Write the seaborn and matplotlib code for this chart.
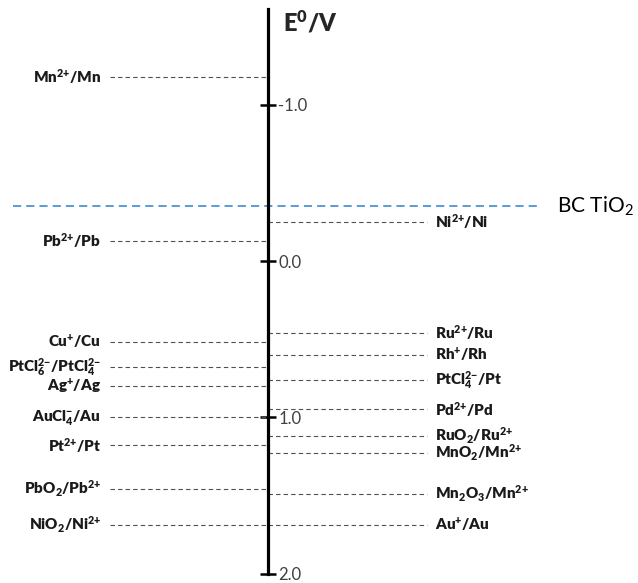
import numpy as np
import pandas as pd
import matplotlib
matplotlib.use("Agg")
import matplotlib.pyplot as plt
import seaborn as sns

# ---- data ----
left_labels = [r"Mn^{2{+}}/Mn", r"Pb^{2{+}}/Pb", r"Cu^{{+}}/Cu", r"PtCl_{6}^{2{-}}/PtCl_{4}^{2{-}}",
               r"Ag^{{+}}/Ag", r"AuCl_{4}^{{-}}/Au", r"Pt^{2{+}}/Pt", r"PbO_{2}/Pb^{2{+}}", r"NiO_{2}/Ni^{2{+}}"]
left_values = [-1.18, -0.13, 0.52, 0.68, 0.80, 1.00, 1.18, 1.46, 1.69]

right_labels = [r"Ni^{2{+}}/Ni", r"Ru^{2{+}}/Ru", r"Rh^{{+}}/Rh", r"PtCl_{4}^{2{-}}/Pt", r"Pd^{2{+}}/Pd",
                r"RuO_{2}/Ru^{2{+}}", r"MnO_{2}/Mn^{2{+}}", r"Mn_{2}O_{3}/Mn^{2{+}}", r"Au^{{+}}/Au"]
right_values = [-0.25, 0.46, 0.60, 0.76, 0.95, 1.12, 1.23, 1.49, 1.69]

band_label = "BC TiO$_{2}$"
band_value = -0.35

tick_values = [-1.0, 0.0, 1.0, 2.0]
tick_labels = ["-1.0", "0.0", "1.0", "2.0"]
axis_title = r"$\mathbf{E^{0}/V}$"

# ---- style ----
sns.set_style("white")
plt.rcParams["font.family"] = ["Lato", "DejaVu Sans"]
plt.rcParams["mathtext.fontset"] = "custom"
plt.rcParams["mathtext.rm"] = "Lato"
plt.rcParams["mathtext.it"] = "Lato:italic"
plt.rcParams["mathtext.bf"] = "Lato:heavy"

W, H = 638, 583
fig = plt.figure(figsize=(W / 100, H / 100), dpi=100)
ax = fig.add_axes([0, 0, 1, 1])

# pixel layout constants
AX_X = 268
LEFT_START, RIGHT_END = 110, 427
y0_px, scale = 261.0, 156.3
ax.set_xlim(0, W)
ax.set_ylim((H - y0_px) / scale, -y0_px / scale)

gray = "#505050"
rows = []
for lab, v in zip(left_labels, left_values):
    rows += [dict(x=LEFT_START, E=v, couple="L" + lab), dict(x=AX_X, E=v, couple="L" + lab)]
for lab, v in zip(right_labels, right_values):
    rows += [dict(x=AX_X, E=v, couple="R" + lab), dict(x=RIGHT_END, E=v, couple="R" + lab)]
df = pd.DataFrame(rows)
sns.lineplot(data=df, x="x", y="E", units="couple", estimator=None, sort=False,
             color=gray, lw=0.8, linestyle=(0, (4.0, 2.8)), legend=False, ax=ax)

band_df = pd.DataFrame(dict(x=[13, 540], E=[band_value, band_value]))
sns.lineplot(data=band_df, x="x", y="E", estimator=None, sort=False, color="#5B9BD5",
             lw=1.4, linestyle=(0, (4.2, 2.6)), legend=False, ax=ax)
ax.text(557, band_value, band_label, fontsize=15, va="center", ha="left", color="black")

for lab, v in zip(left_labels, left_values):
    ax.text(101, v, r"$\mathbf{" + lab + "}$", fontsize=11, ha="right", va="center",
            color="#1a1a1a")
for lab, v in zip(right_labels, right_values):
    ax.text(435, v, r"$\mathbf{" + lab + "}$", fontsize=11, ha="left", va="center",
            color="#1a1a1a")

# vertical energy axis
for s in ["top", "bottom", "left"]:
    ax.spines[s].set_visible(False)
ax.spines["right"].set_position(("data", AX_X))
ax.spines["right"].set_bounds(2.0, -y0_px / scale + 9 / scale)
ax.spines["right"].set_linewidth(2.3)
ax.spines["right"].set_color("black")
ax.yaxis.tick_right()
ax.set_yticks(tick_values)
ax.set_yticklabels(tick_labels)
ax.tick_params(axis="y", direction="inout", length=11, width=1.8, color="black",
               labelsize=12, labelcolor="#404040", pad=2)
ax.set_xticks([])
ax.set_xlabel("")
ax.set_ylabel("")
ax.text(283, -(y0_px - 22) / scale, axis_title, fontsize=17, ha="left", va="center")

fig.savefig("out.png", dpi=100)
